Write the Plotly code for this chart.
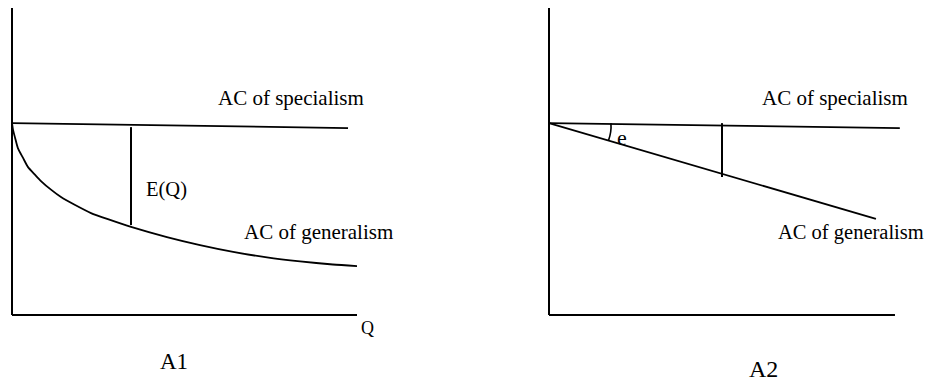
import plotly.graph_objects as go

# ---- data (arbitrary cost / quantity units) ----
# Panel A1
a1_spec_q = [0.0, 9.74]
a1_spec_c = [6.23, 6.07]
a1_gen_q = [0.0, 0.03, 0.09, 0.17, 0.32, 0.46, 0.67, 0.84, 1.13, 1.42, 1.83, 2.29, 2.78,
            3.45, 4.49, 5.45, 6.41, 7.39, 8.35, 9.30, 10.0]
a1_gen_c = [6.23, 6.01, 5.75, 5.42, 5.10, 4.81, 4.55, 4.35, 4.07, 3.83, 3.57, 3.31, 3.11,
            2.86, 2.53, 2.27, 2.05, 1.87, 1.74, 1.64, 1.59]
a1_gap_q = [3.45, 3.45]
a1_gap_c = [6.10, 2.92]

# Panel A2
a2_spec_q = [0.0, 10.14]
a2_spec_c = [6.23, 6.07]
a2_gen_q = [0.0, 9.45]
a2_gen_c = [6.23, 3.12]
a2_gap_q = [5.0, 5.0]
a2_gap_c = [6.23, 4.48]

axis_len = 10.0
labels = {"spec": "AC of specialism", "gen": "AC of generalism", "gap": "E(Q)",
          "angle": "e", "q": "Q", "a1": "A1", "a2": "A2"}

# page body has an 8px margin, so the figure is drawn 8px smaller and offset
OFF = 8
W, H = 933 - OFF, 383 - OFF
FONT = "Liberation Serif"
LW = 1.8

fig = go.Figure()

def line(x, y, xa, ya, w=LW, shape="linear"):
    fig.add_trace(go.Scatter(x=x, y=y, mode="lines", xaxis=xa, yaxis=ya,
                             line=dict(color="black", width=w, shape=shape, smoothing=0.6),
                             hoverinfo="skip", showlegend=False))

# Panel A1
line([0, 0], [0, axis_len], "x", "y", 2)
line([0, axis_len], [0, 0], "x", "y", 2)
line(a1_spec_q, a1_spec_c, "x", "y")
line(a1_gen_q, a1_gen_c, "x", "y", LW, "spline")
line(a1_gap_q, a1_gap_c, "x", "y", 2)

# Panel A2
line([0, 0], [0, axis_len], "x2", "y2", 2)
line([0, axis_len], [0, 0], "x2", "y2", 2)
line(a2_spec_q, a2_spec_c, "x2", "y2")
line(a2_gen_q, a2_gen_c, "x2", "y2")
line(a2_gap_q, a2_gap_c, "x2", "y2", 2)

# angle arc (quadratic bezier) in panel A2
fig.add_shape(type="path", xref="x2", yref="y2",
              path="M 1.79 6.23 Q 1.81 5.94 1.72 5.67",
              line=dict(color="black", width=1.6))

def px2paper_x(p):
    return (p - OFF) / W

def px2paper_y(p):
    return 1 - (p - OFF) / H

ax_common = dict(visible=False, fixedrange=True)
fig.update_layout(
    width=W, height=H, autosize=False,
    margin=dict(l=0, r=0, t=0, b=0),
    paper_bgcolor="white", plot_bgcolor="white",
    xaxis=dict(domain=[px2paper_x(9), px2paper_x(367)], range=[-0.087, 10.29], **ax_common),
    yaxis=dict(domain=[px2paper_y(320), px2paper_y(8)], range=[-0.162, 9.968], **ax_common),
    xaxis2=dict(domain=[px2paper_x(539), px2paper_x(905)], range=[-0.289, 10.29], anchor="y2", **ax_common),
    yaxis2=dict(domain=[px2paper_y(320), px2paper_y(8)], range=[-0.162, 9.968], anchor="x2", **ax_common),
)

def ann(text, x, y, xref, yref, size):
    fig.add_annotation(text=text, x=x, y=y, xref=xref, yref=yref, showarrow=False,
                       xanchor="center", yanchor="middle",
                       font=dict(family=FONT, size=size, color="black"))

ann(labels["spec"], 8.09, 7.05, "x", "y", 21)
ann(labels["gap"], 4.49, 4.06, "x", "y", 20.5)
ann(labels["gen"], 8.87, 2.69, "x", "y", 21)
ann(labels["q"], px2paper_x(367), px2paper_y(328), "paper", "paper", 18)
ann(labels["a1"], px2paper_x(174), px2paper_y(361), "paper", "paper", 23)

ann(labels["spec"], 8.27, 7.05, "x2", "y2", 21)
ann(labels["gen"], 8.72, 2.69, "x2", "y2", 20.5)
ann(labels["angle"], 2.11, 5.75, "x2", "y2", 22)
ann(labels["a2"], px2paper_x(763), px2paper_y(369), "paper", "paper", 24)

fig.write_html("out.html")
